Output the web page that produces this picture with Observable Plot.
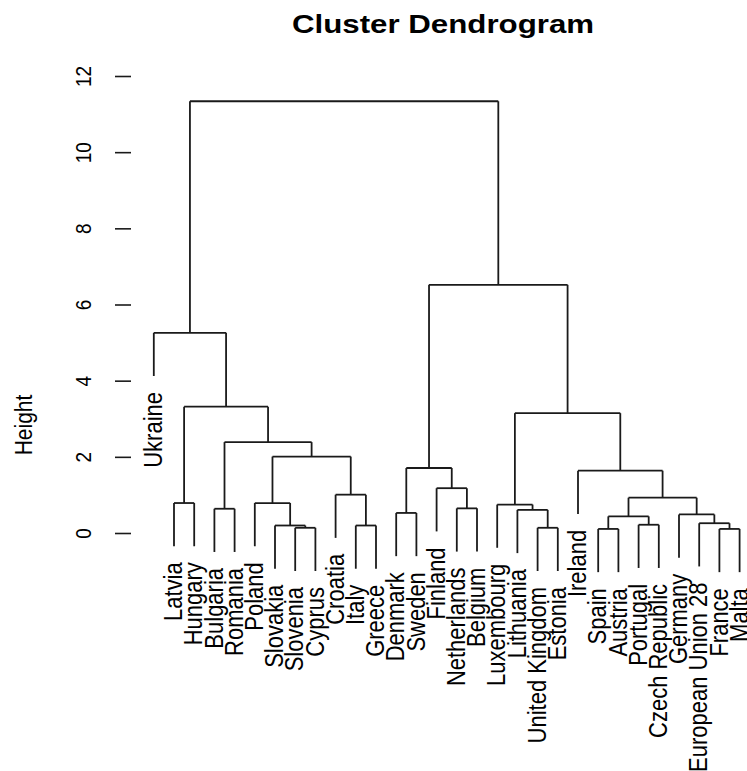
<!DOCTYPE html>
<html>
<head>
<meta charset="utf-8">
<script src="https://cdn.jsdelivr.net/npm/d3@7"></script>
<script src="https://cdn.jsdelivr.net/npm/@observablehq/plot@0.6"></script>
<style>
  html, body { margin: 0; padding: 0; background: #fff; }
  #wrap { width: 747px; font-family: "Liberation Sans", Arial, sans-serif; }
  #title { position: relative; height: 46px; }
  #title span { position: absolute; left: 443px; top: 12px; font-size: 25px; line-height: 25px; font-weight: bold; color: #000;
    transform: translateX(-50%) scaleX(1.25); white-space: nowrap; }
  svg { display: block; }
</style>
</head>
<body>
<div id="wrap">
  <div id="title"><span>Cluster Dendrogram</span></div>
  <div id="chart"></div>
</div>
<script>
// Leaf order (left to right)
const leaves = ["Ukraine","Latvia","Hungary","Bulgaria","Romania","Poland","Slovakia","Slovenia","Cyprus",
  "Croatia","Italy","Greece","Denmark","Sweden","Finland","Netherlands","Belgium","Luxembourg","Lithuania",
  "United Kingdom","Estonia","Ireland","Spain","Austria","Portugal","Czech Republic","Germany",
  "European Union 28","France","Malta"];

// Merge steps: left member, right member ("#k" = k-th merge), height
const mergeLeft  = ["Slovenia","United Kingdom","Spain","France","Slovakia","Italy","Portugal","European Union 28","#3","Germany",
  "Denmark","Lithuania","Bulgaria","Netherlands","Luxembourg","Latvia","Poland","#9","Croatia","Finland",
  "Ireland","#11","#17","#13","#15","#16","Ukraine","#22","#27"];
const mergeRight = ["Cyprus","Estonia","Austria","Malta","#1","Greece","Czech Republic","#4","#7","#8",
  "Sweden","#2","Romania","Belgium","#12","Hungary","#5","#10","#6","#14",
  "#18","#20","#19","#23","#21","#24","#26","#25","#28"];
const mergeHeight = [0.15,0.15,0.12,0.12,0.21,0.21,0.23,0.27,0.45,0.50,
  0.54,0.62,0.65,0.66,0.76,0.80,0.80,0.94,1.02,1.19,
  1.65,1.72,2.02,2.40,3.16,3.33,5.27,6.53,11.35];

const yTicks = [0, 2, 4, 6, 8, 10, 12];

// Build dendrogram geometry (R plot.hclust style: node x = midpoint of children)
const hang = 0.1 * d3.max(mergeHeight);
const nodes = {};
leaves.forEach((name, i) => nodes[name] = {x: i + 1, h: null, name});
const segs = [];
const leafLabels = [];
mergeHeight.forEach((h, k) => {
  const a = nodes[mergeLeft[k]], b = nodes[mergeRight[k]];
  for (const c of [a, b]) {
    const bottom = c.h === null ? h - hang : c.h;
    segs.push({x1: c.x, y1: bottom, x2: c.x, y2: h});
    if (c.h === null) leafLabels.push({x: c.x, y: bottom, name: c.name});
  }
  segs.push({x1: a.x, y1: h, x2: b.x, y2: h});
  nodes["#" + (k + 1)] = {x: (a.x + b.x) / 2, h};
});

const W = 747, H = 725;
const chart = Plot.plot({
  width: W, height: H,
  marginLeft: 131, marginRight: 8, marginTop: 30, marginBottom: 238,
  style: {fontFamily: "Liberation Sans, Arial, sans-serif", color: "#000", background: "#fff"},
  x: {domain: [1, leaves.length], range: [153.3, 739.1], axis: null},
  y: {domain: [0, 12], label: null},
  marks: [
    Plot.axisY({ticks: yTicks, tickSize: 16, line: true, tickFormat: () => "", label: null,
      stroke: "#1a1a1a", strokeWidth: 1.6}),
    Plot.text(yTicks, {y: d => d, text: d => String(d), frameAnchor: "left", dx: -48, rotate: -90,
      textAnchor: "middle", lineAnchor: "middle", fontSize: 19, fill: "#000"}),
    Plot.link(segs, {x1: "x1", y1: "y1", x2: "x2", y2: "y2", stroke: "#1a1a1a", strokeWidth: 1.8}),
    Plot.text(leafLabels, {x: "x", y: "y", text: "name", rotate: -90, textAnchor: "end", lineAnchor: "middle",
      dy: 16, fontSize: 22, fill: "#000"}),
    Plot.text(["Height"], {frameAnchor: "left", dx: -107, dy: 120, rotate: -90, textAnchor: "middle",
      lineAnchor: "middle", fontSize: 21, fill: "#000"})
  ]
});
document.getElementById("chart").appendChild(chart);
// Stretch rotated labels horizontally, as in the reference rendering
d3.select(chart).selectAll("text").each(function() {
  const t = this.getAttribute("transform");
  if (t && t.includes("rotate")) this.setAttribute("transform", t + " scale(1,1.15)");
});
</script>
</body>
</html>
